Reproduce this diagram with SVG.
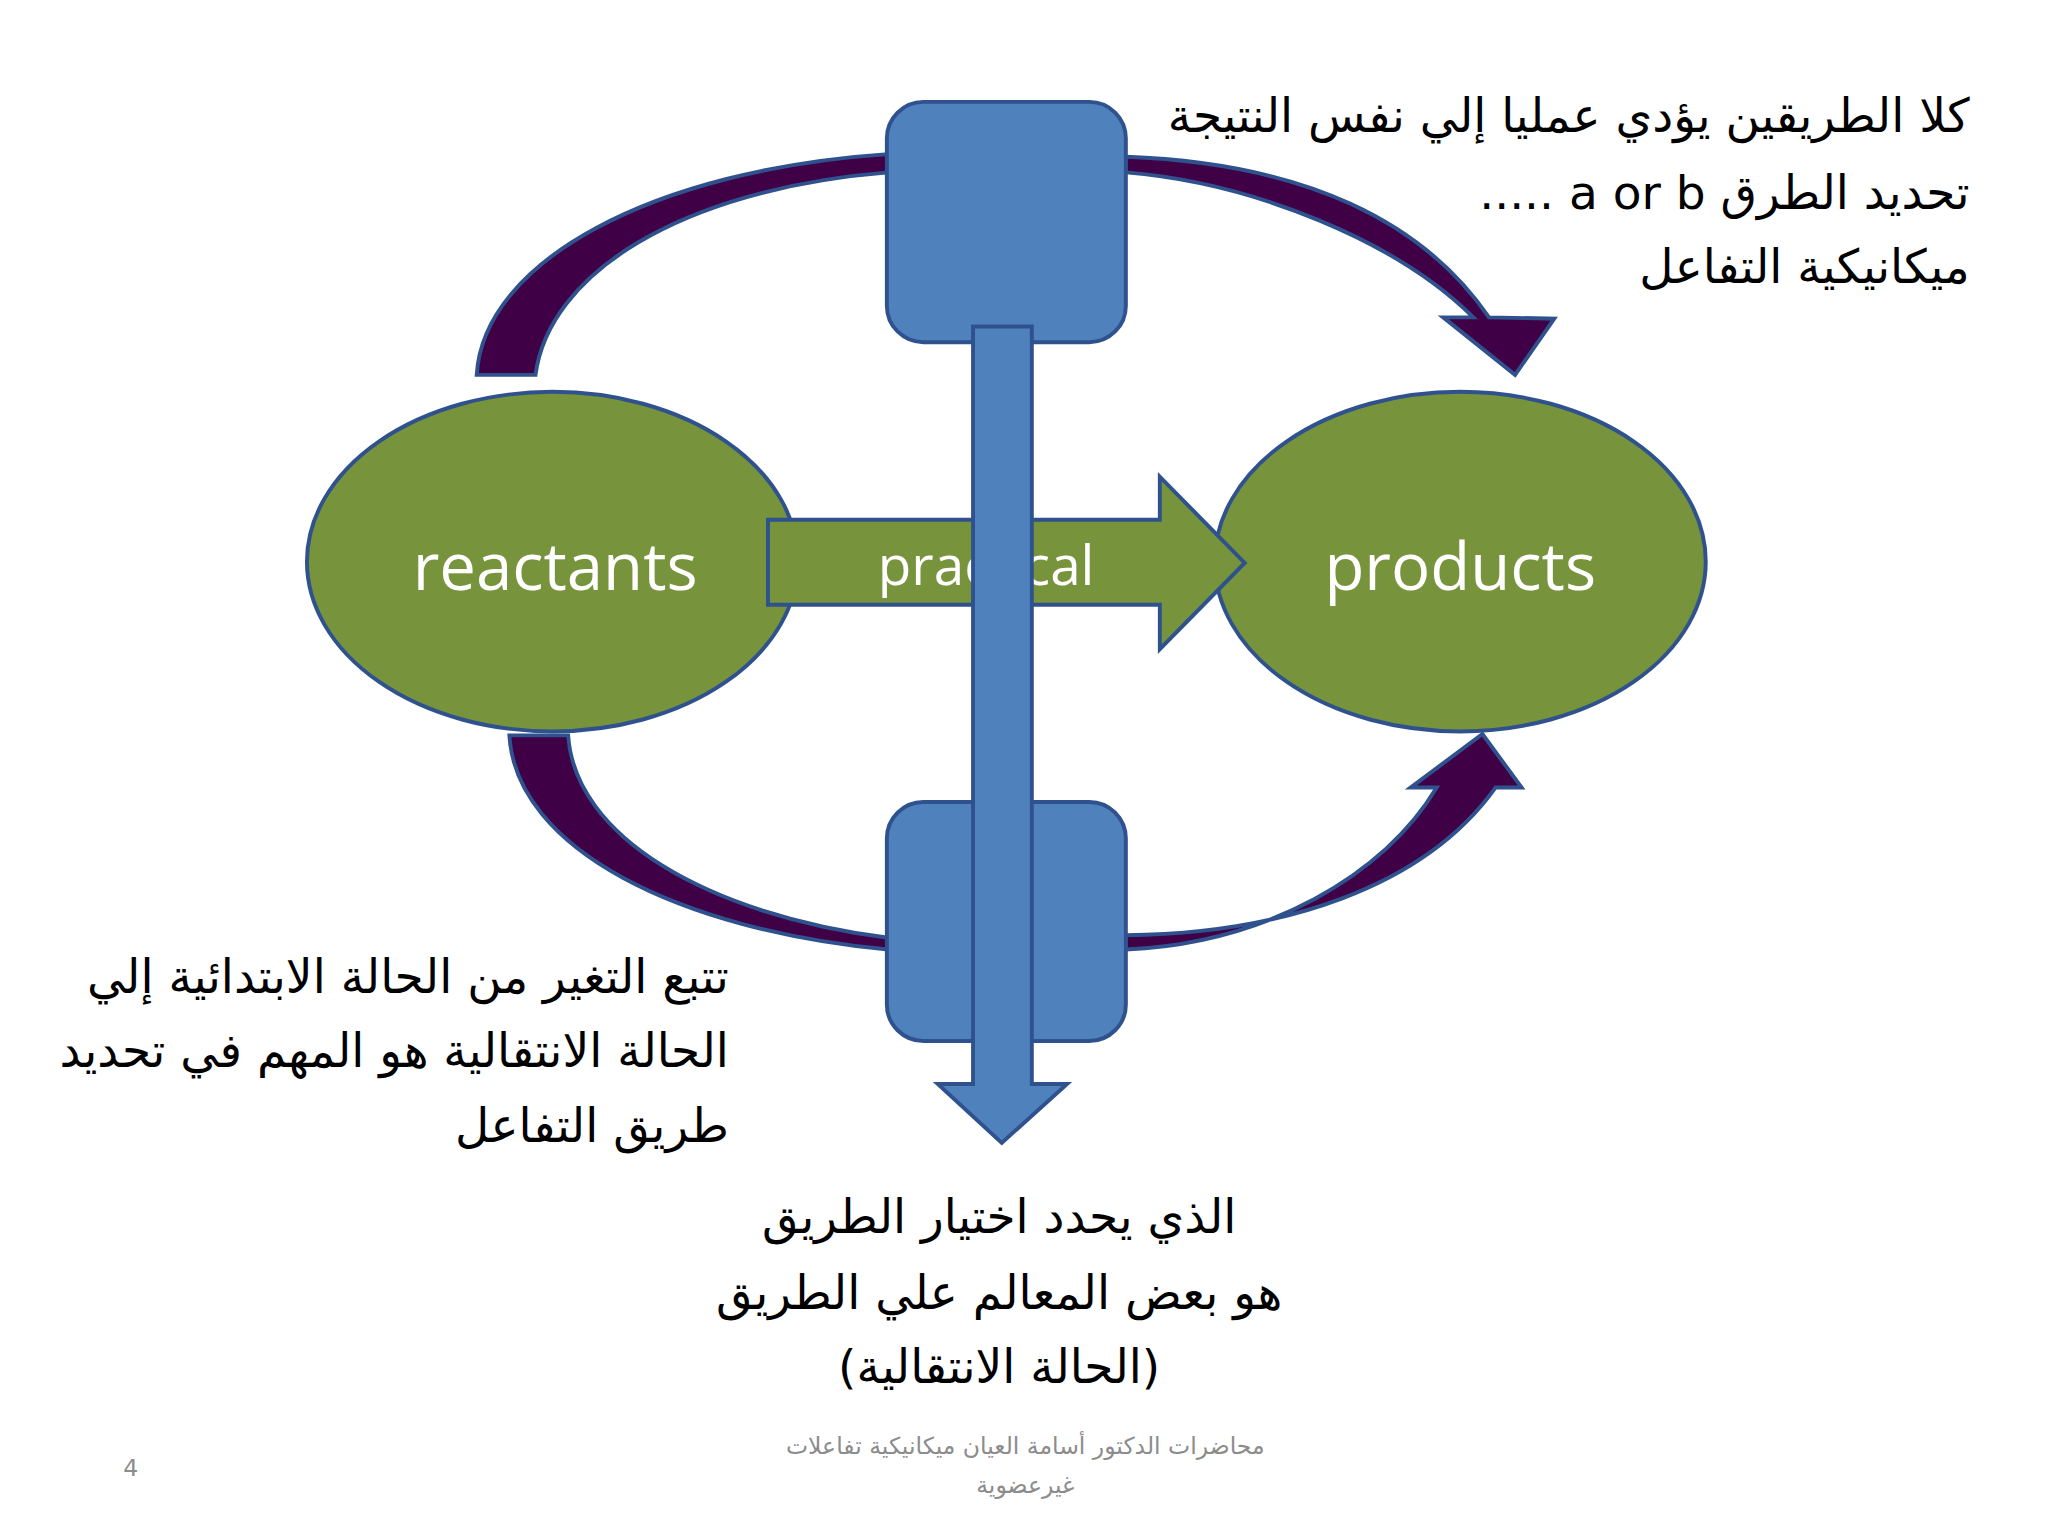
<svg xmlns="http://www.w3.org/2000/svg" width="2048" height="1536" viewBox="0 0 2048 1536">
<style>
.band{fill:#3f0045;stroke:#2f528f;stroke-width:3}
.blue{fill:#4f81bd;stroke:#2f528f;stroke-width:3}
.green{fill:#77933c;stroke:#2f528f;stroke-width:3}
.lbl{font-family:"Open Sans","Liberation Sans",sans-serif;fill:#fff}
.ar{font-family:"DejaVu Sans","Liberation Sans",sans-serif;font-size:36px;fill:#000}
.ft{font-family:"DejaVu Sans","Liberation Sans",sans-serif;font-size:18px;fill:#8c8c8c}
</style>
<rect width="2048" height="1536" fill="#fff"/>
<g transform="scale(1.3061)">
<g id="connectors">
<path class="band" d="M365,287 C370,200 500,130 680,118 L680,132 C520,145 420,210 410,287 Z"/>
<path class="band" d="M862,120 C1000,125 1090,170 1140,243 L1190,244 L1160,287 L1105,243 L1128,243 C1070,185 960,140 862,132 Z"/>
<path class="band" d="M390,563 C395,650 520,712 680,727 L680,718 C540,700 440,640 435,563 Z"/>
<path class="band" d="M862,727 C970,722 1060,670 1100,603 L1080,603 L1135,562 L1165,603 L1145,603 C1090,680 980,715 862,716 Z"/>
</g>
<g id="reactants"><ellipse class="green" cx="423" cy="430" rx="188" ry="130"/>
<text class="lbl" x="425" y="452" font-size="50" text-anchor="middle">reactants</text></g>
<g id="products"><ellipse class="green" cx="1118" cy="430" rx="188" ry="130"/>
<text class="lbl" x="1118" y="452" font-size="50" text-anchor="middle">products</text></g>
<g id="practical"><path class="green" d="M588,398 L888,398 L888,365 L953,431 L888,497 L888,463 L588,463 Z"/>
<text class="lbl" x="755" y="448" font-size="42" text-anchor="middle">practical</text></g>
<g id="topbox"><rect class="blue" x="679" y="78" width="183" height="184" rx="28"/></g>
<g id="bottombox"><rect class="blue" x="679" y="614" width="183" height="183" rx="28"/></g>
<g id="downarrow"><path class="blue" d="M745,250 L790,250 L790,830 L817,830 L767,875 L718,830 L745,830 Z"/></g>
<g id="texts">
<text class="ar" x="1508" y="101" direction="rtl" text-anchor="start">كلا الطريقين يؤدي عمليا إلي نفس النتيجة</text>
<text class="ar" x="1508" y="160" direction="rtl" text-anchor="start">تحديد الطرق  a or b .....</text>
<text class="ar" x="1508" y="217" direction="rtl" text-anchor="start">ميكانيكية التفاعل</text>
<text class="ar" x="558" y="760" direction="rtl" text-anchor="start">تتبع التغير من الحالة الابتدائية إلي</text>
<text class="ar" x="558" y="817" direction="rtl" text-anchor="start">الحالة الانتقالية هو المهم في تحديد</text>
<text class="ar" x="558" y="874" direction="rtl" text-anchor="start">طريق التفاعل</text>
<text class="ar" x="765" y="944" direction="rtl" text-anchor="middle">الذي يحدد اختيار الطريق</text>
<text class="ar" x="765" y="1002" direction="rtl" text-anchor="middle">هو بعض المعالم علي الطريق</text>
<text class="ar" x="765" y="1059" direction="rtl" text-anchor="middle">(الحالة الانتقالية)</text>
<text class="ft" x="785" y="1113" direction="rtl" text-anchor="middle">محاضرات الدكتور أسامة العيان ميكانيكية تفاعلات</text>
<text class="ft" x="785" y="1143" direction="rtl" text-anchor="middle">غيرعضوية</text>
<text class="ft" x="100" y="1130" font-size="22" text-anchor="middle">4</text>
</g>
</g>
</svg>
